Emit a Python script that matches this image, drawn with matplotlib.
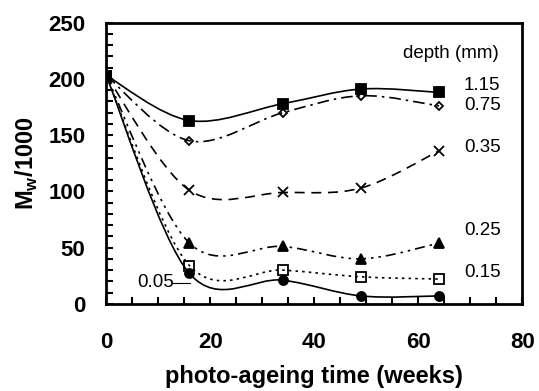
import numpy as np
import matplotlib
matplotlib.use("Agg")
import matplotlib.pyplot as plt
from matplotlib.path import Path
from matplotlib.patches import PathPatch
from matplotlib.ticker import MultipleLocator

plt.rcParams['font.family'] = ['Liberation Sans', 'DejaVu Sans']
plt.rcParams['mathtext.fontset'] = 'custom'
plt.rcParams['mathtext.bf'] = 'Liberation Sans:bold'
plt.rcParams['mathtext.rm'] = 'Liberation Sans:bold'

weeks = [0, 16, 34, 49, 64]
depths = ["1.15", "0.75", "0.35", "0.25", "0.15", "0.05"]
mw_115 = [203, 163, 178, 191, 188]
mw_075 = [203, 145, 170, 185, 176]
mw_035 = [203, 101, 99, 103, 136]
mw_025 = [203, 54, 51, 40, 54]
mw_015 = [203, 34, 30, 24, 22]
mw_005 = [203, 27, 21, 7, 7]

series = [mw_115, mw_075, mw_035, mw_025, mw_015, mw_005]
markers = [('s', 'k', 6.5), ('D', 'none', 4), ('x', 'k', 7), ('^', 'k', 7), ('s', 'none', 6.5), ('o', 'k', 6.5)]
dashes = ['-', (0, (7, 3, 1.5, 3)), (0, (6, 4)), (0, (6, 3, 1.5, 3, 1.5, 3)), (0, (1.5, 2.5)), '-']
label_y = [194, 176, 139, 65, 28]


def smooth_path(x, y):
    # excel style smoothed line: cubic bezier through the points
    p = np.column_stack([x, y]).astype(float)
    ext = np.vstack([p[0], p, p[-1]])
    verts = [p[0]]
    codes = [Path.MOVETO]
    for i in range(len(p) - 1):
        c1 = ext[i + 1] + (ext[i + 2] - ext[i]) / 6
        c2 = ext[i + 2] - (ext[i + 3] - ext[i + 1]) / 6
        verts += [c1, c2, p[i + 1]]
        codes += [Path.CURVE4] * 3
    return Path(verts, codes)


fig = plt.figure(figsize=(5.39, 3.91), dpi=100)
ax = fig.add_axes([0.197, 0.223, 0.772, 0.719])

for ys, (m, fc, ms), ls in zip(series, markers, dashes):
    ax.add_patch(PathPatch(smooth_path(weeks, ys), fill=False, lw=1.2, ec='k', ls=ls))
    ax.plot(weeks, ys, ls='none', marker=m, ms=ms, mfc=fc, mec='k', mew=1.3)

ax.text(66.2, 223, "depth (mm)", ha='center', va='center', fontsize=13.5)
for d, ly in zip(depths[:5], label_y):
    ax.text(72.3, ly, d, ha='center', va='center', fontsize=13.5)
ax.text(9.6, 18.6, "0.05", ha='center', va='center', fontsize=13.5)
ax.plot([12.9, 16.2], [18.6, 18.6], color='k', lw=0.8)

ax.set_xlim(0, 80)
ax.set_ylim(0, 250)
ax.xaxis.set_major_locator(MultipleLocator(20))
ax.xaxis.set_minor_locator(MultipleLocator(5))
ax.yaxis.set_major_locator(MultipleLocator(50))
ax.yaxis.set_minor_locator(MultipleLocator(10))
ax.tick_params(which='both', direction='in', length=5, width=1.5)
ax.tick_params(axis='x', which='major', pad=20)
ax.tick_params(axis='y', which='major', pad=15)
for lab in ax.get_xticklabels() + ax.get_yticklabels():
    lab.set_fontweight('bold')
    lab.set_fontsize(16)
for s in ax.spines.values():
    s.set_linewidth(2)

ax.set_xlabel("photo-ageing time (weeks)", fontsize=17, fontweight='bold', labelpad=9)
ax.set_ylabel(r"M$_\mathbf{w}$/1000", fontsize=17, fontweight='bold', labelpad=6)

fig.savefig("out.png", dpi=100)
